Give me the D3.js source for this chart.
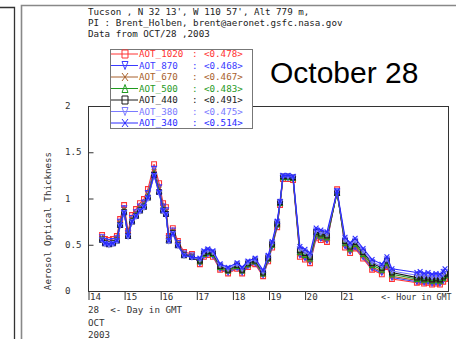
<!DOCTYPE html>
<html>
<head>
<meta charset="utf-8">
<script src="https://cdn.jsdelivr.net/npm/d3@7"></script>
<style>
  html, body { margin: 0; padding: 0; background: #fff; }
  svg { display: block; }
  .mono { font-family: "DejaVu Sans Mono", "Liberation Mono", monospace; font-size: 9.2px; }
</style>
</head>
<body>
<svg id="chart" width="456" height="339"></svg>
<script>
// Hour of day (GMT) for each measurement, 28 Oct 2003
const hours = [
  14.39, 14.47, 14.58, 14.69, 14.80, 14.89, 15.00, 15.11, 15.22, 15.33,
  15.44, 15.55, 15.66, 15.83, 15.97, 16.08, 16.16, 16.24, 16.35, 16.49,
  16.66, 16.88, 17.10, 17.21, 17.32, 17.46, 17.66, 17.88, 18.13, 18.27,
  18.43, 18.63, 18.85, 18.99, 19.10, 19.24, 19.32, 19.40, 19.54, 19.68,
  19.87, 20.01, 20.15, 20.32, 20.45, 20.62, 20.90, 21.12, 21.26, 21.40,
  21.62, 21.87, 22.14, 22.28, 22.42, 23.11, 23.20, 23.31, 23.42, 23.53,
  23.64, 23.75, 23.84, 23.89
];

const aot1020 = [
  0.605, 0.562, 0.551, 0.562, 0.594, 0.778, 0.929, 0.648, 0.821, 0.886,
  0.950, 0.994, 1.102, 1.372, 1.166, 0.950, 0.907, 0.594, 0.680, 0.540,
  0.421, 0.400, 0.29, 0.37, 0.39, 0.37, 0.23, 0.19, 0.24, 0.19,
  0.26, 0.29, 0.16, 0.32, 0.47, 0.69, 0.93, 1.21, 1.21, 1.20,
  0.37, 0.34, 0.30, 0.57, 0.55, 0.53, 1.10, 0.47, 0.41, 0.46,
  0.35, 0.23, 0.18, 0.26, 0.13, 0.09, 0.10, 0.08, 0.09, 0.07,
  0.08, 0.07, 0.10, 0.13
];
const aot870 = [
  0.582, 0.541, 0.530, 0.541, 0.572, 0.749, 0.894, 0.624, 0.790, 0.853,
  0.915, 0.957, 1.061, 1.321, 1.123, 0.915, 0.874, 0.572, 0.655, 0.520,
  0.406, 0.385, 0.30, 0.38, 0.40, 0.38, 0.24, 0.20, 0.25, 0.20,
  0.27, 0.30, 0.17, 0.33, 0.48, 0.70, 0.94, 1.22, 1.22, 1.21,
  0.385, 0.355, 0.315, 0.585, 0.565, 0.545, 1.08, 0.485, 0.425, 0.475,
  0.365, 0.245, 0.195, 0.275, 0.145, 0.10, 0.11, 0.09, 0.10, 0.08,
  0.09, 0.08, 0.11, 0.14
];
const aot670 = [
  0.571, 0.530, 0.520, 0.530, 0.561, 0.734, 0.877, 0.612, 0.775, 0.836,
  0.898, 0.938, 1.040, 1.295, 1.102, 0.898, 0.857, 0.561, 0.643, 0.510,
  0.398, 0.377, 0.31, 0.39, 0.41, 0.39, 0.25, 0.21, 0.26, 0.21,
  0.28, 0.31, 0.18, 0.34, 0.49, 0.71, 0.95, 1.23, 1.23, 1.22,
  0.40, 0.37, 0.33, 0.60, 0.58, 0.56, 1.07, 0.50, 0.44, 0.49,
  0.38, 0.26, 0.21, 0.29, 0.16, 0.115, 0.125, 0.105, 0.115, 0.095,
  0.105, 0.095, 0.125, 0.155
];
const aot500 = [
  0.56, 0.52, 0.51, 0.52, 0.55, 0.72, 0.86, 0.60, 0.76, 0.82,
  0.88, 0.92, 1.02, 1.27, 1.08, 0.88, 0.84, 0.55, 0.63, 0.50,
  0.39, 0.37, 0.32, 0.40, 0.42, 0.40, 0.26, 0.22, 0.27, 0.22,
  0.29, 0.32, 0.19, 0.35, 0.50, 0.72, 0.95, 1.23, 1.23, 1.22,
  0.42, 0.39, 0.35, 0.62, 0.60, 0.58, 1.06, 0.52, 0.46, 0.51,
  0.40, 0.28, 0.23, 0.31, 0.18, 0.13, 0.14, 0.12, 0.13, 0.11,
  0.12, 0.11, 0.14, 0.17
];
const aot440 = [
  0.554, 0.515, 0.505, 0.515, 0.545, 0.713, 0.851, 0.594, 0.752, 0.812,
  0.871, 0.911, 1.010, 1.257, 1.069, 0.871, 0.832, 0.545, 0.624, 0.495,
  0.386, 0.366, 0.33, 0.41, 0.43, 0.41, 0.27, 0.23, 0.28, 0.23,
  0.30, 0.33, 0.20, 0.36, 0.51, 0.73, 0.96, 1.24, 1.24, 1.23,
  0.44, 0.41, 0.37, 0.64, 0.62, 0.60, 1.06, 0.54, 0.48, 0.53,
  0.42, 0.30, 0.25, 0.33, 0.20, 0.145, 0.155, 0.135, 0.145, 0.125,
  0.135, 0.125, 0.155, 0.185
];
const aot380 = [
  0.549, 0.510, 0.500, 0.510, 0.539, 0.706, 0.843, 0.588, 0.745, 0.804,
  0.862, 0.902, 1.000, 1.245, 1.058, 0.862, 0.823, 0.539, 0.617, 0.490,
  0.382, 0.363, 0.34, 0.42, 0.44, 0.42, 0.28, 0.24, 0.29, 0.24,
  0.31, 0.34, 0.21, 0.37, 0.52, 0.74, 0.96, 1.24, 1.24, 1.23,
  0.455, 0.425, 0.385, 0.655, 0.635, 0.615, 1.07, 0.555, 0.495, 0.545,
  0.435, 0.315, 0.265, 0.345, 0.215, 0.17, 0.18, 0.16, 0.17, 0.15,
  0.16, 0.15, 0.18, 0.21
];
const aot340 = [
  0.554, 0.515, 0.505, 0.515, 0.545, 0.713, 0.851, 0.594, 0.752, 0.812,
  0.871, 0.911, 1.010, 1.257, 1.069, 0.871, 0.832, 0.545, 0.624, 0.495,
  0.386, 0.366, 0.355, 0.435, 0.455, 0.435, 0.295, 0.255, 0.305, 0.255,
  0.325, 0.355, 0.225, 0.385, 0.535, 0.755, 0.97, 1.25, 1.25, 1.24,
  0.48, 0.45, 0.41, 0.68, 0.66, 0.64, 1.08, 0.58, 0.52, 0.57,
  0.46, 0.34, 0.29, 0.37, 0.24, 0.20, 0.21, 0.19, 0.20, 0.18,
  0.19, 0.18, 0.21, 0.24
];

const seriesNames = ["AOT_1020", "AOT_870", "AOT_670", "AOT_500", "AOT_440", "AOT_380", "AOT_340"];
const seriesMeans = ["0.478", "0.468", "0.467", "0.483", "0.491", "0.475", "0.514"];
const seriesValues = [aot1020, aot870, aot670, aot500, aot440, aot380, aot340];
const seriesColors = ["#ff3333", "#3a3aff", "#a8612c", "#1f9a1f", "#1a1a1a", "#7a7aff", "#2a2aff"];
const seriesMarkers = ["square", "triDown", "cross", "triUp", "square", "triDown", "cross"];

const yTicks = [0, 0.5, 1, 1.5, 2];
const yTickLabels = ["0", "0.5", "1", "1.5", "2"];
const xTicks = [14, 15, 16, 17, 18, 19, 20, 21];

const headerLines = [
  "Tucson , N 32 13', W 110 57', Alt 779 m,",
  "PI : Brent_Holben, brent@aeronet.gsfc.nasa.gov",
  "Data from OCT/28 ,2003"
];
const dayLines = ["28  <- Day in GMT", "OCT", "2003"];

const svg = d3.select("#chart");

// page frames
svg.append("path").attr("d", "M0,7.5H14.5V339").attr("fill", "none").attr("stroke", "#333").attr("stroke-width", 1.3);
svg.append("path").attr("d", "M21.5,339V5.5H456").attr("fill", "none").attr("stroke", "#888").attr("stroke-width", 1.6);

const plot = { left: 88, right: 449, top: 106, bottom: 291 };
const x = d3.scaleLinear().domain([14, 24]).range([plot.left, plot.right]);
const y = d3.scaleLinear().domain([0, 2]).range([plot.bottom, plot.top]);

// header
svg.append("g").selectAll("text").data(headerLines).join("text")
  .attr("class", "mono").attr("x", 88).attr("y", (d, i) => 15 + i * 11.2)
  .attr("fill", "#222").text(d => d);

// plot frame
svg.append("rect").attr("x", plot.left + 0.5).attr("y", plot.top + 0.5)
  .attr("width", plot.right - plot.left - 1).attr("height", plot.bottom - plot.top)
  .attr("fill", "none").attr("stroke", "#333").attr("stroke-width", 1);

// y axis: ticks point inward, labels left-aligned
const yAxis = d3.axisRight(y).tickValues(yTicks).tickSize(5).tickFormat("");
const gy = svg.append("g").attr("transform", `translate(${plot.left + 0.5},0)`).call(yAxis);
gy.select(".domain").remove();
gy.selectAll(".tick line").attr("stroke", "#333");
svg.append("g").selectAll("text").data(yTicks).join("text")
  .attr("class", "mono").attr("x", 65).attr("y", d => y(d)).attr("dy", "0.35em")
  .attr("fill", "#333").text((d, i) => yTickLabels[i]);

svg.append("text").attr("class", "mono")
  .attr("transform", "translate(51,221) rotate(-90)")
  .attr("text-anchor", "middle").attr("fill", "#333")
  .text("Aerosol Optical Thickness");

// x axis: ticks below the frame with labels to the right
const xAxis = d3.axisBottom(x).tickValues(xTicks).tickSize(9).tickFormat("");
const gx = svg.append("g").attr("transform", `translate(0.5,${plot.bottom})`).call(xAxis);
gx.select(".domain").remove();
gx.selectAll(".tick line").attr("stroke", "#333");
svg.append("g").selectAll("text").data(xTicks).join("text")
  .attr("class", "mono").attr("x", d => x(d) + 2).attr("y", 300)
  .attr("fill", "#333").text(d => d);
svg.append("text").attr("class", "mono").attr("x", 381).attr("y", 300)
  .style("font-size", "8.4px")
  .attr("fill", "#333").text("<- Hour in GMT");
svg.append("g").selectAll("text").data(dayLines).join("text")
  .attr("class", "mono").attr("x", 88).attr("y", (d, i) => 313 + i * 12.5)
  .attr("fill", "#333").style("white-space", "pre").text(d => d);

// marker shapes
function markerPath(kind, r, h) {
  const v = h || r;
  switch (kind) {
    case "square": return `M${-r},${-v}H${r}V${v}H${-r}Z`;
    case "triDown": return `M${-r},${-v}H${r}L0,${v}Z`;
    case "triUp": return `M${-r},${v}H${r}L0,${-v}Z`;
    case "cross": return `M${-r},${-v}L${r},${v}M${-r},${v}L${r},${-v}`;
  }
}

// series lines and markers
const line = d3.line().x(d => x(d[0])).y(d => y(d[1]));
const gSeries = svg.append("g");
seriesValues.forEach((vals, i) => {
  const pts = hours.map((h, j) => [h, vals[j]]);
  const g = gSeries.append("g");
  g.append("path").datum(pts).attr("d", line)
    .attr("fill", "none").attr("stroke", seriesColors[i]).attr("stroke-width", 1.1);
  g.selectAll("path.m").data(pts).join("path").attr("class", "m")
    .attr("transform", d => `translate(${x(d[0])},${y(d[1])})`)
    .attr("d", markerPath(seriesMarkers[i], 2.4))
    .attr("fill", "none").attr("stroke", seriesColors[i]).attr("stroke-width", 1.1);
});

// legend
const lg = svg.append("g");
lg.append("rect").attr("x", 110.5).attr("y", 49.5).attr("width", 142).attr("height", 79)
  .attr("fill", "#fff").attr("stroke", "#777").attr("stroke-width", 1);
seriesNames.forEach((name, i) => {
  const cy = 54 + i * 11.5;
  const c = seriesColors[i];
  lg.append("line").attr("x1", 111).attr("x2", 138).attr("y1", cy).attr("y2", cy)
    .attr("stroke", c).attr("stroke-width", 1);
  lg.append("path").attr("transform", `translate(125,${cy})`)
    .attr("d", markerPath(seriesMarkers[i], 3, 4))
    .attr("fill", "none").attr("stroke", c).attr("stroke-width", 1);
  lg.append("text").attr("class", "mono").attr("x", 139).attr("y", cy).attr("dy", "0.35em")
    .attr("fill", c).text(name);
  lg.append("text").attr("class", "mono").attr("x", 192).attr("y", cy).attr("dy", "0.35em")
    .attr("fill", c).text(":");
  lg.append("text").attr("class", "mono").attr("x", 204).attr("y", cy).attr("dy", "0.35em")
    .attr("fill", c).text(`<${seriesMeans[i]}>`);
});

// date caption
svg.append("text").attr("x", 270).attr("y", 83)
  .style("font-family", "'Liberation Sans', Arial, sans-serif").style("font-size", "30px")
  .attr("fill", "#000").text("October 28");
</script>
</body>
</html>
